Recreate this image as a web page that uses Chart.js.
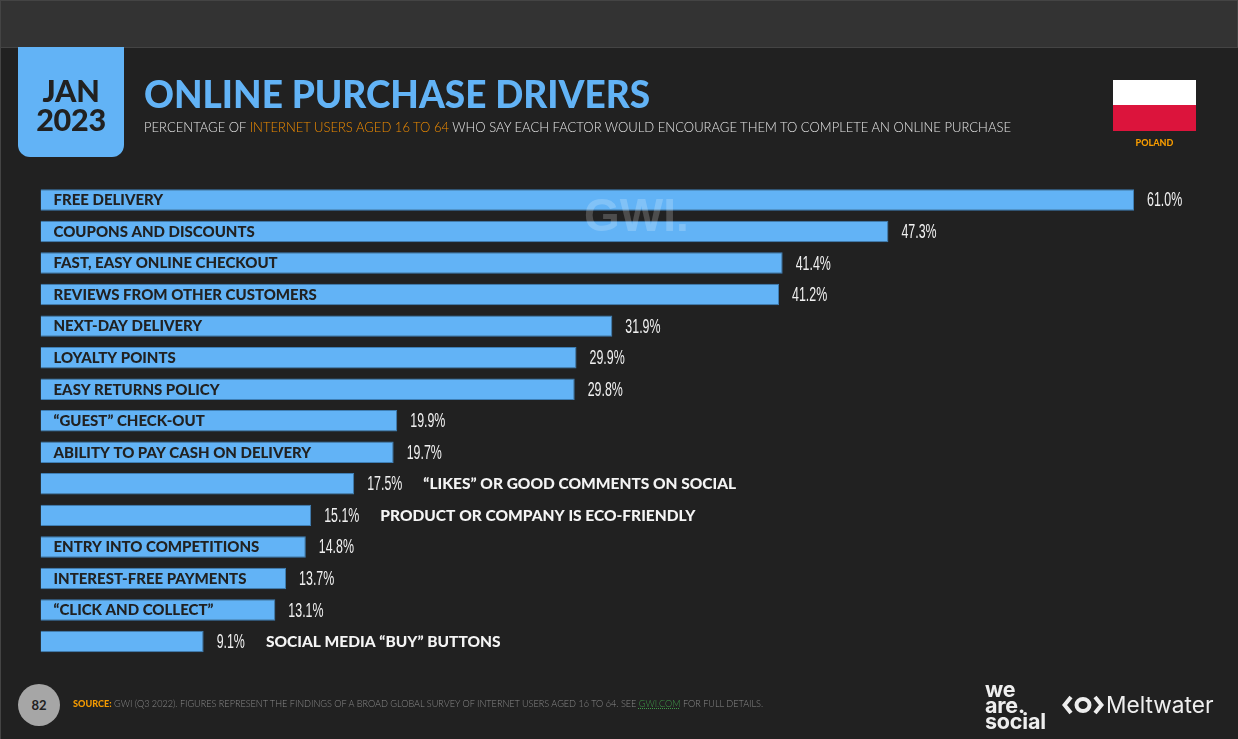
<!DOCTYPE html>
<html>
<head>
<meta charset="utf-8">
<script src="https://cdn.jsdelivr.net/npm/chart.js@4"></script>
<style>
  html, body { margin: 0; background: #212121; overflow: hidden; }
  #page { position: relative; width: 1238px; height: 739px; font-family: Lato, sans-serif; overflow: hidden; }
  #page div { position: absolute; white-space: nowrap; }
  canvas { position: absolute; left: 0; top: 0; }
  #topbar { left: 0; top: 0; width: 1236px; height: 46px; background: #333; border: 1px solid #444; }
  #edge { left: 0; top: 47px; width: 1px; height: 692px; background: #444; }
  #tab { left: 18px; top: 47px; width: 106px; height: 110px; background: #62b3f6; border-radius: 0 0 12px 12px; }
  .date { left: 18px; width: 106px; text-align: center; color: #212121; font-weight: 900; font-size: 30.5px; line-height: 30px; letter-spacing: -0.3px; }
  #title { left: 144px; top: 69px; color: #62b3f6; font-weight: 900; font-size: 38.5px; line-height: 48px; transform: scaleX(0.96); transform-origin: left; }
  #subtitle { left: 144px; top: 118px; color: #e4e4e4; font-size: 13.6px; line-height: 18px; font-weight: 300; transform: scaleX(0.958); transform-origin: left; }
  #subtitle span { color: #f08c00; }
  #flagW { left: 1113px; top: 80px; width: 83px; height: 25px; background: #fff; }
  #flagR { left: 1113px; top: 105px; width: 83px; height: 26px; background: #dc143c; }
  #country { left: 1113px; top: 137px; width: 83px; text-align: center; color: #f59b00; font-weight: 900; font-size: 9px; line-height: 12px; }
  #gwi { left: 584px; top: 191px; color: rgba(255,255,255,0.2); font-family: "Liberation Sans"; font-weight: 700; font-size: 46px; line-height: 48px; }
  #num { left: 18px; top: 684px; width: 42px; height: 42px; border-radius: 50%; background: #a6a6a6; color: #212121; font-weight: 700; font-size: 13px; line-height: 42px; text-align: center; }
  #source { left: 73px; top: 697px; color: #8a8a8a; font-size: 9.1px; line-height: 14px; font-weight: 300; }
  #source b { color: #f59b00; font-weight: 900; }
  #source u { color: #3f9a48; text-decoration: underline dotted; }
  #wearesocial { left: 985px; top: 681px; color: #eee; font-family: Inter, sans-serif; font-weight: 700; font-size: 21.5px; line-height: 16px; letter-spacing: -0.2px; }
  #melt { left: 1106px; top: 691px; color: #eee; font-family: Inter, sans-serif; font-weight: 400; font-size: 22.7px; line-height: 28px; }
  svg { position: absolute; left: 1062px; top: 695px; }
</style>
</head>
<body>
<div id="page">
  <canvas id="chart" width="1238" height="739"></canvas>
  <div id="topbar"></div>
  <div id="edge"></div>
  <div id="tab"></div>
  <div class="date" style="top:75px">JAN</div>
  <div class="date" style="top:104px">2023</div>
  <div id="title">ONLINE PURCHASE DRIVERS</div>
  <div id="subtitle">PERCENTAGE OF <span>INTERNET USERS AGED 16 TO 64</span> WHO SAY EACH FACTOR WOULD ENCOURAGE THEM TO COMPLETE AN ONLINE PURCHASE</div>
  <div id="flagW"></div>
  <div id="flagR"></div>
  <div id="country">POLAND</div>
  <div id="gwi">GWI.</div>
  <div id="num">82</div>
  <div id="source"><b>SOURCE:</b> GWI (Q3 2022). FIGURES REPRESENT THE FINDINGS OF A BROAD GLOBAL SURVEY OF INTERNET USERS AGED 16 TO 64. SEE <u>GWI.COM</u> FOR FULL DETAILS.</div>
  <div id="wearesocial">we<br>are.<br>social</div>
  <svg width="42" height="20" viewBox="0 0 42 20">
    <path d="M9 2 L2.5 10 L9 18" fill="none" stroke="#eee" stroke-width="4"/>
    <path d="M33 2 L39.5 10 L33 18" fill="none" stroke="#eee" stroke-width="4"/>
    <ellipse cx="21" cy="10" rx="6.5" ry="6" fill="none" stroke="#eee" stroke-width="4"/>
  </svg>
  <div id="melt">Meltwater</div>
</div>

<script>
  const categories = [
    'FREE DELIVERY', 'COUPONS AND DISCOUNTS', 'FAST, EASY ONLINE CHECKOUT',
    'REVIEWS FROM OTHER CUSTOMERS', 'NEXT-DAY DELIVERY', 'LOYALTY POINTS',
    'EASY RETURNS POLICY', '“GUEST” CHECK-OUT', 'ABILITY TO PAY CASH ON DELIVERY',
    '“LIKES” OR GOOD COMMENTS ON SOCIAL', 'PRODUCT OR COMPANY IS ECO-FRIENDLY',
    'ENTRY INTO COMPETITIONS', 'INTEREST-FREE PAYMENTS', '“CLICK AND COLLECT”',
    'SOCIAL MEDIA “BUY” BUTTONS'
  ];
  const values = [61.0, 47.3, 41.4, 41.2, 31.9, 29.9, 29.8, 19.9, 19.7, 17.5, 15.1, 14.8, 13.7, 13.1, 9.1];
  // these labels don't fit in their bar so they go after the value
  const labelsOutside = [
    '“LIKES” OR GOOD COMMENTS ON SOCIAL',
    'PRODUCT OR COMPANY IS ECO-FRIENDLY',
    'SOCIAL MEDIA “BUY” BUTTONS'
  ];

  // Value and category labels, placed from the bar elements
  const valueSqueeze = 0.62;
  const barLabels = {
    id: 'barLabels',
    afterDatasetsDraw(chart) {
      const ctx = chart.ctx;
      const bars = chart.getDatasetMeta(0).data;
      ctx.save();
      ctx.textBaseline = 'middle';
      ctx.textAlign = 'left';
      bars.forEach((bar, i) => {
        const valueText = values[i].toFixed(1) + '%';
        const valueX = bar.x + 13;
        ctx.font = '400 20px "Liberation Sans"';
        ctx.fillStyle = '#f0f0f0';
        // no narrow font installed, squeeze it by hand
        ctx.save();
        ctx.translate(valueX, bar.y + 1);
        ctx.scale(valueSqueeze, 1);
        ctx.fillText(valueText, 0, 0);
        ctx.restore();
        const valueW = ctx.measureText(valueText).width * valueSqueeze;

        if (labelsOutside.includes(categories[i])) {
          ctx.font = '900 15.5px Lato, sans-serif';
          ctx.fillStyle = '#f4f4f4';
          ctx.fillText(categories[i], valueX + valueW + 21, bar.y + 0.5);
        } else {
          ctx.font = '900 15px Lato, sans-serif';
          ctx.fillStyle = '#212121';
          ctx.fillText(categories[i], chart.chartArea.left + 13, bar.y + 0.5);
        }
      });
      ctx.restore();
    }
  };

  new Chart(document.getElementById('chart').getContext('2d'), {
    type: 'bar',
    data: {
      labels: categories,
      datasets: [{
        data: values,
        backgroundColor: '#62b3f6',
        borderColor: '#3f7fb5',
        borderWidth: 1,
        barPercentage: 0.68,
        categoryPercentage: 1
      }]
    },
    options: {
      indexAxis: 'y',
      responsive: false,
      animation: false,
      layout: { padding: { left: 40.5, right: 104, top: 184.2, bottom: 81.7 } },
      scales: {
        x: { display: false, min: 0, max: 61 },
        y: { display: false }
      },
      plugins: { legend: { display: false }, tooltip: { enabled: false } }
    },
    plugins: [barLabels]
  });
</script>
</body>
</html>
